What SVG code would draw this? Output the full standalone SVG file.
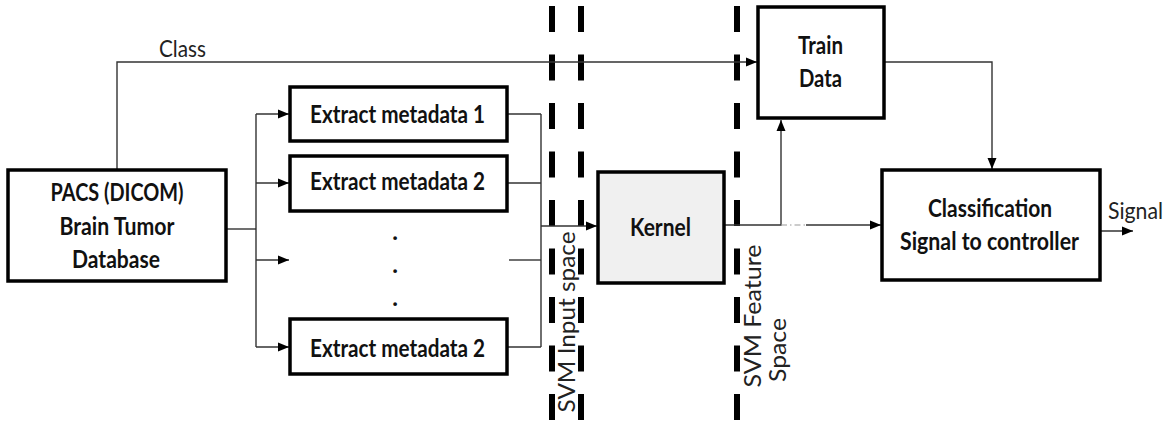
<svg xmlns="http://www.w3.org/2000/svg" width="1173" height="422" viewBox="0 0 1173 422">
  <style>
    .box { fill: #ffffff; stroke: #000000; stroke-width: 3.5; }
    .kern { fill: #f0f0f0; stroke: #000000; stroke-width: 3.5; }
    .lbl { font-family: Lato, "Open Sans", "Liberation Sans", sans-serif; font-weight: bold; font-size: 24px; fill: #111111; }
    .txt { font-family: Lato, "Open Sans", "Liberation Sans", sans-serif; font-size: 24px; fill: #222222; }
    .wire { fill: none; stroke: #333333; stroke-width: 1.4; }
    .faint { fill: none; stroke: #9a9a9a; stroke-width: 1.2; stroke-dasharray: 6 3 1.5 3; }
    .sep { fill: none; stroke: #000000; stroke-width: 6; stroke-dasharray: 26 22.5; }
  </style>
  <defs>
    <marker id="arr" viewBox="0 0 11 10" refX="11" refY="5" markerWidth="11" markerHeight="10" markerUnits="userSpaceOnUse" orient="auto">
      <path d="M0 0.5 L11 5 L0 9.5 Z" fill="#000000"/>
    </marker>
  </defs>

  <rect width="1173" height="422" fill="#ffffff"/>

  <!-- space separators -->
  <g id="separators">
    <path class="sep" d="M552 6 V420"/>
    <path class="sep" d="M581 6 V420"/>
    <path class="sep" d="M737 6 V420"/>
  </g>

  <!-- connectors -->
  <g id="connectors">
    <!-- class label path to training data -->
    <path class="wire" d="M117 170 V62 H757" marker-end="url(#arr)"/>
    <!-- fan-out to metadata extractors -->
    <path class="wire" d="M226 229 H256"/>
    <path class="wire" d="M256 114 V347"/>
    <path class="wire" d="M256 114 H289" marker-end="url(#arr)"/>
    <path class="wire" d="M256 183 H289" marker-end="url(#arr)"/>
    <path class="wire" d="M256 260 H289" marker-end="url(#arr)"/>
    <path class="wire" d="M256 347 H289" marker-end="url(#arr)"/>
    <!-- fan-in to kernel -->
    <path class="wire" d="M507 114 H541"/>
    <path class="wire" d="M507 183 H541"/>
    <path class="wire" d="M509 260 H541"/>
    <path class="wire" d="M507 347 H541"/>
    <path class="wire" d="M541 114 V347"/>
    <path class="wire" d="M541 226 H597" marker-end="url(#arr)"/>
    <!-- kernel output -->
    <path class="wire" d="M724 225 H781 V120" marker-end="url(#arr)"/>
    <path class="faint" d="M781 225 H806"/>
    <path class="wire" d="M806 225 H881" marker-end="url(#arr)"/>
    <!-- training data to classifier -->
    <path class="wire" d="M884 62 H992 V169" marker-end="url(#arr)"/>
    <!-- output signal -->
    <path class="wire" d="M1100 231 H1133" marker-end="url(#arr)"/>
  </g>

  <g id="pacs">
    <rect class="box" x="8" y="170" width="218" height="111"/>
    <text class="lbl" x="117" y="201" text-anchor="middle" textLength="133" lengthAdjust="spacingAndGlyphs">PACS (DICOM)</text>
    <text class="lbl" x="117" y="235" text-anchor="middle" textLength="115" lengthAdjust="spacingAndGlyphs">Brain Tumor</text>
    <text class="lbl" x="116" y="268" text-anchor="middle" textLength="88" lengthAdjust="spacingAndGlyphs">Database</text>
  </g>

  <g id="extract1">
    <rect class="box" x="290" y="87" width="217" height="54"/>
    <text class="lbl" x="397.5" y="123" text-anchor="middle" textLength="175" lengthAdjust="spacingAndGlyphs">Extract metadata 1</text>
  </g>

  <g id="extract2">
    <rect class="box" x="290" y="156" width="217" height="55"/>
    <text class="lbl" x="397.5" y="190" text-anchor="middle" textLength="175" lengthAdjust="spacingAndGlyphs">Extract metadata 2</text>
  </g>

  <g id="ellipsis">
    <text class="lbl" x="395" y="240" text-anchor="middle">.</text>
    <text class="lbl" x="395" y="273" text-anchor="middle">.</text>
    <text class="lbl" x="395" y="306" text-anchor="middle">.</text>
  </g>

  <g id="extractN">
    <rect class="box" x="290" y="319" width="217" height="55"/>
    <text class="lbl" x="397.5" y="357" text-anchor="middle" textLength="175" lengthAdjust="spacingAndGlyphs">Extract metadata 2</text>
  </g>

  <g id="kernel">
    <rect class="kern" x="598" y="172" width="126" height="111"/>
    <text class="lbl" x="660.5" y="236" text-anchor="middle" textLength="61" lengthAdjust="spacingAndGlyphs">Kernel</text>
  </g>

  <g id="train">
    <rect class="box" x="758" y="7" width="126" height="111"/>
    <text class="lbl" x="820.5" y="54" text-anchor="middle" textLength="45" lengthAdjust="spacingAndGlyphs">Train</text>
    <text class="lbl" x="820.5" y="87" text-anchor="middle" textLength="43" lengthAdjust="spacingAndGlyphs">Data</text>
  </g>

  <g id="classifier">
    <rect class="box" x="882" y="170" width="218" height="110"/>
    <text class="lbl" x="990" y="217" text-anchor="middle" textLength="124" lengthAdjust="spacingAndGlyphs">Classification</text>
    <text class="lbl" x="989.5" y="250" text-anchor="middle" textLength="179" lengthAdjust="spacingAndGlyphs">Signal to controller</text>
  </g>

  <g id="labels">
    <text class="txt" x="159" y="57" textLength="47" lengthAdjust="spacingAndGlyphs">Class</text>
    <text class="txt" x="1108" y="219" textLength="55" lengthAdjust="spacingAndGlyphs">Signal</text>
    <text class="txt" transform="translate(575,322) rotate(-90)" text-anchor="middle" textLength="181" lengthAdjust="spacingAndGlyphs">SVM Input space</text>
    <text class="txt" transform="translate(761,316) rotate(-90)" text-anchor="middle" textLength="143" lengthAdjust="spacingAndGlyphs">SVM Feature</text>
    <text class="txt" transform="translate(786,350) rotate(-90)" text-anchor="middle" textLength="64" lengthAdjust="spacingAndGlyphs">Space</text>
  </g>
</svg>
